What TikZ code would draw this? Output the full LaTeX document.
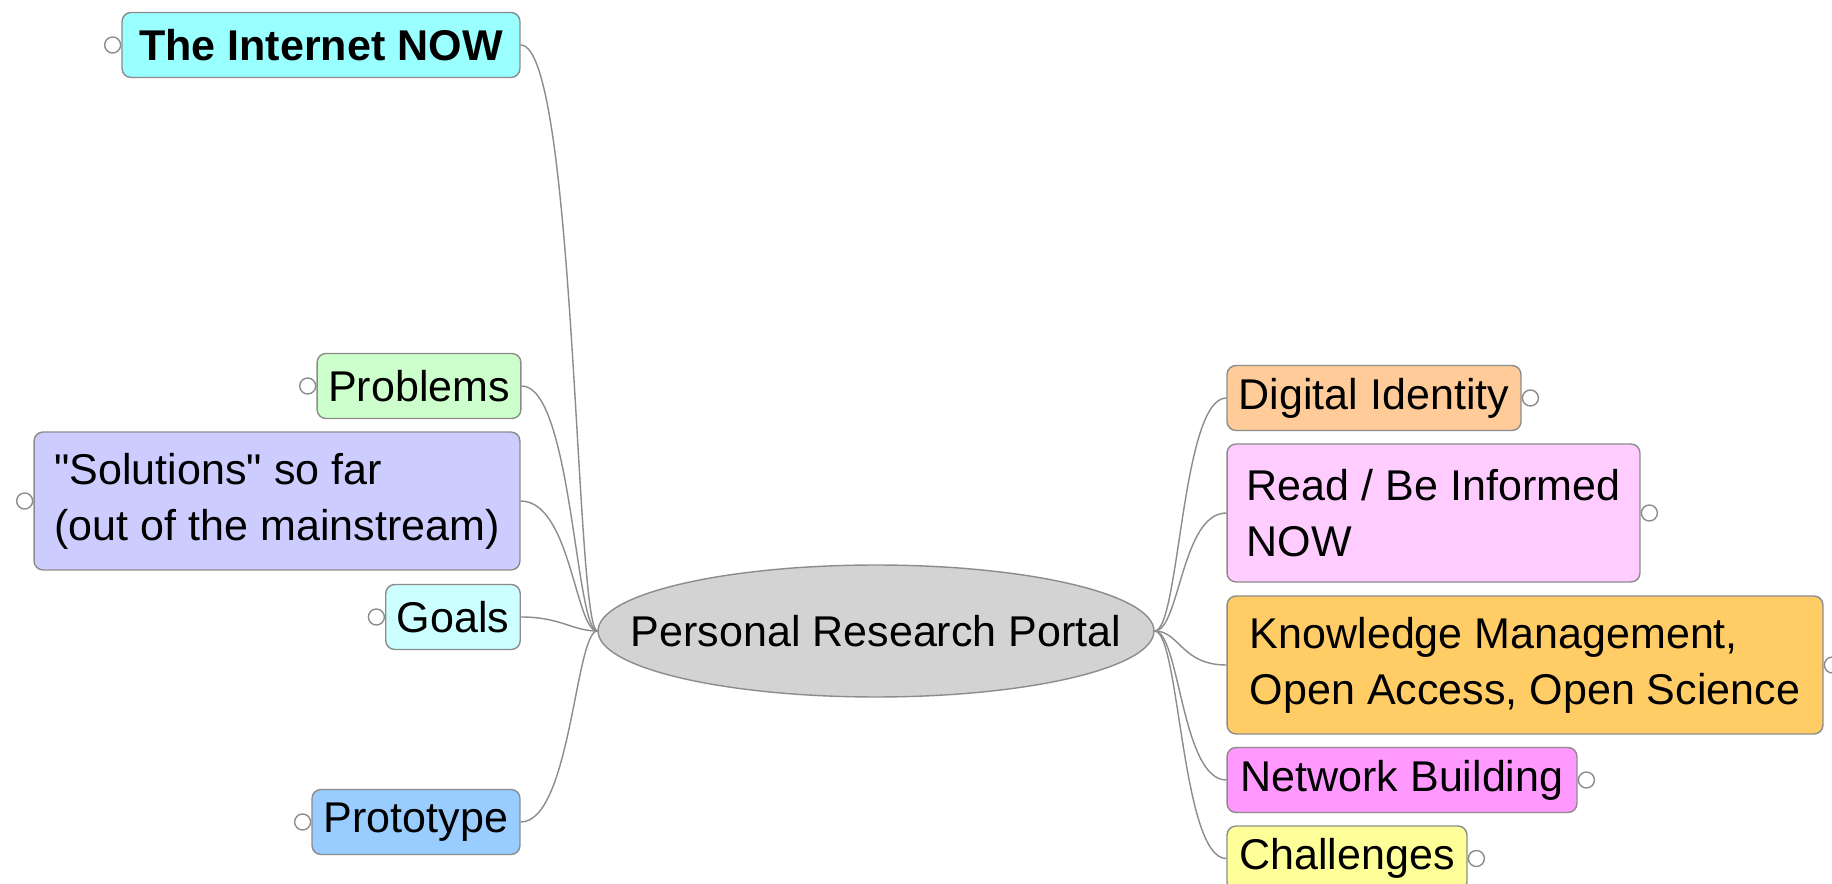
\documentclass[tikz,border=0pt]{standalone}
\usepackage{fontspec}
\setmainfont{Liberation Sans}[Ligatures=TeXOff]
\usepackage{tikz}
\usetikzlibrary{positioning,shapes.geometric}

\definecolor{inetcol}{HTML}{99FFFF}
\definecolor{problcol}{HTML}{CCFFCC}
\definecolor{solutcol}{HTML}{CCCCFF}
\definecolor{goalscol}{HTML}{CCFFFF}
\definecolor{protocol}{HTML}{99CCFF}
\definecolor{hubcol}{HTML}{D3D3D3}
\definecolor{digidcol}{HTML}{FFCC99}
\definecolor{readcol}{HTML}{FFCCFF}
\definecolor{knowcol}{HTML}{FFCC66}
\definecolor{netbcol}{HTML}{FF99FF}
\definecolor{challcol}{HTML}{FFFF99}
\definecolor{edgegray}{HTML}{8C8C8C}

\begin{document}
\begin{tikzpicture}[
x=0.02cm, y=-0.02cm,
hubnode/.style={ellipse, draw=edgegray, fill=hubcol, line width=0.8pt, minimum width=11.12cm, minimum height=2.64cm, inner sep=0pt, font=\fontsize{24.5}{32}\selectfont},
topic/.style={rectangle, rounded corners=0.18cm, draw=edgegray, fill=#1, line width=0.8pt, align=left, inner xsep=0.22cm, minimum height=1.3cm, font=\fontsize{24.5}{32}\selectfont},
tall/.style={minimum height=2.76cm},
knob/.style={circle, draw=edgegray, fill=white, line width=0.8pt, minimum size=0.32cm, inner sep=0pt},
link/.style={draw=edgegray, line width=0.8pt}
]
    \useasboundingbox[fill=white] (0,0) rectangle (1832,884);

    %Nodes
    \node[hubnode]
        (hub)   at (876,631)    {\makebox[0pt]{Personal Research Portal}};
    \node[topic=inetcol, minimum width=7.96cm]
        (inet)  at (321,45)     {\bfseries The Internet NOW};
    \node[topic=problcol, minimum width=4.04cm]
        (probl) at (419,386)    {Problems};
    \node[topic=solutcol, tall, minimum width=9.72cm]
        (solut) at (277,501)    {"Solutions" so far\\(out of the mainstream)};
    \node[topic=goalscol, minimum width=2.68cm]
        (goals) at (453,617)    {Goals};
    \node[topic=protocol, minimum width=4.16cm]
        (proto) at (416,822)    {Prototype};
    \node[topic=digidcol, minimum width=5.88cm]
        (digid) at (1374,398)   {Digital Identity};
    \node[topic=readcol, tall, minimum width=8.26cm]
        (readn) at (1433.5,513) {Read / Be Informed\\NOW};
    \node[topic=knowcol, tall, minimum width=11.92cm]
        (knowm) at (1525,665)   {Knowledge Management,\\Open Access, Open Science};
    \node[topic=netbcol, minimum width=7cm]
        (netb)  at (1402,780)   {Network Building};
    \node[topic=challcol, minimum width=4.8cm]
        (chall) at (1347,858.5) {Challenges};

    %Knobs
    \node[knob] (inetk)  [left=0pt of inet]   {};
    \node[knob] (problk) [left=0pt of probl]  {};
    \node[knob] (solutk) [left=0pt of solut]  {};
    \node[knob] (goalsk) [left=0pt of goals]  {};
    \node[knob] (protok) [left=0pt of proto]  {};
    \node[knob] (digidk) [right=0pt of digid] {};
    \node[knob] (readk)  [right=0pt of readn] {};
    \node[knob] (knowk)  [right=0pt of knowm] {};
    \node[knob] (netbk)  [right=0pt of netb]  {};
    \node[knob] (challk) [right=0pt of chall] {};

    %Lines
    \draw[link] (inet.east)  .. controls +(55,0) and +(-22,0) .. (hub.west);
    \draw[link] (probl.east) .. controls +(50,0) and +(-22,0) .. (hub.west);
    \draw[link] (solut.east) .. controls +(50,0) and +(-22,0) .. (hub.west);
    \draw[link] (goals.east) .. controls +(40,0) and +(-25,0) .. (hub.west);
    \draw[link] (proto.east) .. controls +(50,0) and +(-22,0) .. (hub.west);
    \draw[link] (hub.east) .. controls +(25,0) and +(-45,0) .. (digid.west);
    \draw[link] (hub.east) .. controls +(25,0) and +(-45,0) .. (readn.west);
    \draw[link] (hub.east) .. controls +(25,0) and +(-45,0) .. (knowm.west);
    \draw[link] (hub.east) .. controls +(25,0) and +(-45,0) .. (netb.west);
    \draw[link] (hub.east) .. controls +(25,0) and +(-45,0) .. (chall.west);
\end{tikzpicture}
\end{document}
